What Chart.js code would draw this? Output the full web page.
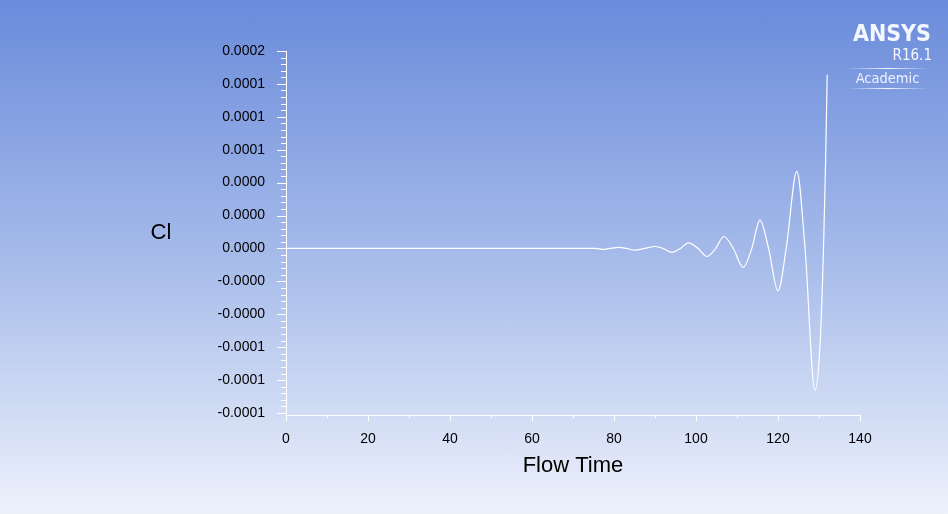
<!DOCTYPE html>
<html>
<head>
<meta charset="utf-8">
<script src="https://cdn.jsdelivr.net/npm/chart.js@4.4.1/dist/chart.umd.min.js"></script>
<style>
  html, body { margin: 0; padding: 0; }
  #wrap {
    position: relative; width: 948px; height: 514px; overflow: hidden;
    background: linear-gradient(to bottom, #6a8bdb 0%, #a6bbea 50%, #edf1fb 100%);
  }
  .logo { position: absolute; color: #f4f7ff; font-family: "DejaVu Sans", sans-serif; font-stretch: condensed; white-space: nowrap; }
  #ansys { right: 17px; top: 20px; font-weight: bold; font-size: 23px; line-height: 27px; }
  #rel { right: 16px; top: 47px; font-size: 15px; line-height: 17px; }
  #ac { left: 846px; width: 83px; top: 70px; text-align: center; font-size: 14.5px; line-height: 17px; color: #eef2ff; }
  .bar { position: absolute; left: 846px; width: 83px; height: 1px; background: linear-gradient(to right, rgba(255,255,255,0), rgba(255,255,255,0.9), rgba(255,255,255,0)); }
</style>
</head>
<body>
<div id="wrap">
  <canvas id="clChart"></canvas>
  <div class="logo" id="ansys">ANSYS</div>
  <div class="logo" id="rel">R16.1</div>
  <div class="bar" style="top:68px"></div>
  <div class="logo" id="ac">Academic</div>
  <div class="bar" style="top:88px"></div>
</div>
<script>
// values
const flowTime = [0, 75.5, 77.1, 79.0, 81.0, 83.0, 85.1, 87.5, 90.0, 92.0, 94.1, 96.2, 98.2, 100.5,
  102.7, 104.8, 106.8, 109.1, 111.5, 113.6, 115.6, 117.7, 120.0, 122.0, 124.6, 126.6, 129.0,
  130.2, 131.1, 131.6, 132.0];
const clValues = [0, 0, -0.76e-6, 0, 0.76e-6, 0, -1.3e-6, 0, 1.5e-6, 0, -3.0e-6, 0, 4.3e-6, 0,
  -6.1e-6, 0, 9.1e-6, 0, -1.44e-5, 0, 2.15e-5, 0, -3.22e-5, 0, 5.85e-5, 0, -1.077e-4,
  -7.6e-5, 0, 6.5e-5, 1.32e-4];

const xTicks = [0, 20, 40, 60, 80, 100, 120, 140];
const xTickLabels = ['0', '20', '40', '60', '80', '100', '120', '140'];
const yTicks = [-0.000125, -0.0001, -0.000075, -0.00005, -0.000025, 0, 0.000025, 0.00005, 0.000075, 0.0001, 0.000125, 0.00015];
const yTickLabels = ['-0.0001', '-0.0001', '-0.0001', '-0.0000', '-0.0000', '0.0000', '0.0000', '0.0000', '0.0001', '0.0001', '0.0001', '0.0002'];

const font = '"Liberation Sans", Arial, sans-serif';

// axis lines, major/minor ticks and titles, drawn from the scales
const fluentAxes = {
  id: 'fluentAxes',
  afterDraw(chart) {
    const c = chart.ctx, xs = chart.scales.x, ys = chart.scales.y;
    const left = xs.getPixelForValue(xTicks[0]);
    const right = xs.getPixelForValue(xTicks[xTicks.length - 1]);
    const top = ys.getPixelForValue(yTicks[yTicks.length - 1]);
    const axisY = ys.getPixelForValue(yTicks[0]) + 2;
    c.save();
    c.strokeStyle = '#ffffff';
    c.lineWidth = 1;
    c.beginPath();
    c.moveTo(left + 0.5, top); c.lineTo(left + 0.5, axisY + 0.5);
    c.lineTo(right, axisY + 0.5);
    // y ticks: 4 minors between majors
    for (let i = 0; i < yTicks.length; i++) {
      const py = Math.round(ys.getPixelForValue(yTicks[i])) + 0.5;
      c.moveTo(left - 9, py); c.lineTo(left, py);
      if (i < yTicks.length - 1) {
        for (let k = 1; k < 5; k++) {
          const v = yTicks[i] + (yTicks[i + 1] - yTicks[i]) * k / 5;
          const my = Math.round(ys.getPixelForValue(v)) + 0.5;
          c.moveTo(left - 5, my); c.lineTo(left, my);
        }
      }
    }
    // x ticks: 1 minor between majors
    for (let i = 0; i < xTicks.length; i++) {
      const px = Math.round(xs.getPixelForValue(xTicks[i])) + 0.5;
      c.moveTo(px, axisY); c.lineTo(px, axisY + 6);
      if (i < xTicks.length - 1) {
        const mx = Math.round(xs.getPixelForValue((xTicks[i] + xTicks[i + 1]) / 2)) + 0.5;
        c.moveTo(mx, axisY); c.lineTo(mx, axisY + 3);
      }
    }
    c.stroke();
    c.fillStyle = '#000';
    c.font = '22px ' + font;
    c.textAlign = 'center';
    c.textBaseline = 'middle';
    c.fillText('Cl', left - 125, ys.getPixelForValue(0) - 16);
    c.fillText('Flow Time', (left + right) / 2, axisY + 51);
    c.restore();
  }
};

new Chart(document.getElementById('clChart'), {
  type: 'line',
  data: {
    datasets: [{
      data: flowTime.map((t, i) => ({ x: t, y: clValues[i] })),
      borderColor: '#ffffff',
      borderWidth: 1.2,
      pointRadius: 0,
      fill: false,
      cubicInterpolationMode: 'monotone'
    }]
  },
  options: {
    responsive: true,
    maintainAspectRatio: false,
    animation: false,
    layout: { padding: { top: 51, right: 88, left: 0, bottom: 0 } },
    plugins: { legend: { display: false }, tooltip: { enabled: false } },
    scales: {
      x: {
        type: 'linear', min: 0, max: 140,
        afterBuildTicks: s => { s.ticks = xTicks.map(v => ({ value: v })); },
        afterFit: s => { s.height = 101; },
        grid: { display: false, drawTicks: false },
        border: { display: false },
        ticks: { padding: 18, color: '#000', maxRotation: 0, autoSkip: false, font: { family: font, size: 14 },
          callback: (v, i) => xTickLabels[i] }
      },
      y: {
        type: 'linear', min: yTicks[0], max: yTicks[yTicks.length - 1],
        afterBuildTicks: s => { s.ticks = yTicks.map(v => ({ value: v })); },
        afterFit: s => { s.width = 286; },
        grid: { display: false, drawTicks: false },
        border: { display: false },
        ticks: { padding: 21, color: '#000', autoSkip: false, font: { family: font, size: 14 },
          callback: (v, i) => yTickLabels[i] }
      }
    }
  },
  plugins: [fluentAxes]
});
</script>
</body>
</html>
